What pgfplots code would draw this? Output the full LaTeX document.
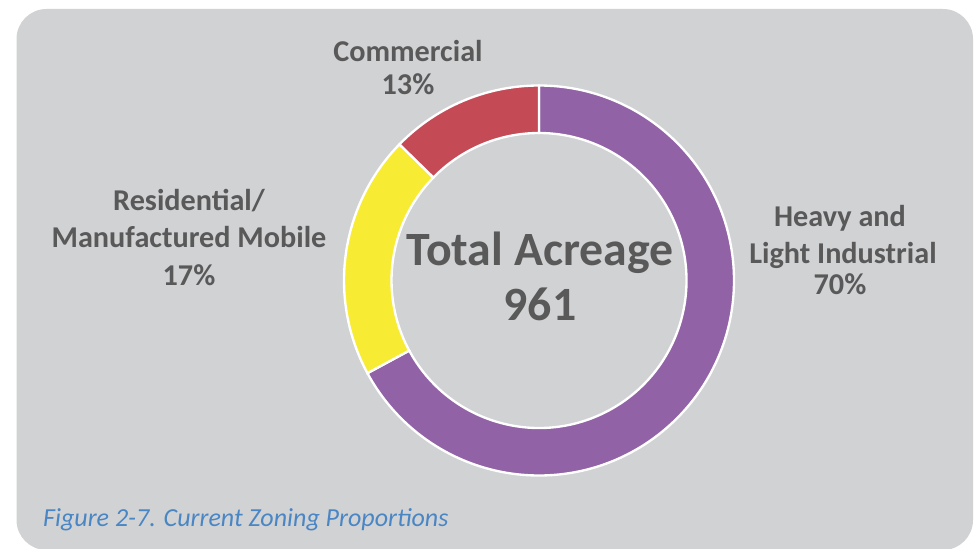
\documentclass[border=0pt]{standalone}
\usepackage{pgfplots}
\pgfplotsset{compat=1.18}
\usepackage{pgfplotstable}
\usepackage{fontspec}
\setmainfont{Carlito}

\definecolor{bg}{HTML}{D1D2D4}
\definecolor{ind}{HTML}{9262A6}
\definecolor{res}{HTML}{F7EC33}
\definecolor{com}{HTML}{C44A55}
\definecolor{lbl}{HTML}{595959}
\definecolor{cap}{HTML}{4A86C4}

% acreage by zoning class (total 961)
\pgfplotstableread{
zone acres
Industrial 645
Residential 194
Commercial 122
}\zoning

\pgfplotstablegetelem{0}{acres}\of\zoning \let\vA\pgfplotsretval
\pgfplotstablegetelem{1}{acres}\of\zoning \let\vB\pgfplotsretval
\pgfplotstablegetelem{2}{acres}\of\zoning \let\vC\pgfplotsretval
\pgfmathsetmacro\total{\vA+\vB+\vC}
\pgfmathsetmacro\aA{90}
\pgfmathsetmacro\aB{\aA-360*(\vA/\total)}
\pgfmathsetmacro\aC{\aB-360*(\vB/\total)}
\pgfmathsetmacro\aD{\aC-360*(\vC/\total)}

% donut geometry (axis units = px)
\def\cx{539}
\def\cy{267.5}
\def\ro{195}
\def\ri{147.5}

\newcommand\seg[3]{%
  \fill[#1, draw=white, line width=2pt]
    (axis cs:{\cx+\ro*cos(#2)},{\cy+\ro*sin(#2)})
    arc[start angle=#2, end angle=#3, radius=\ro*0.03cm]
    -- (axis cs:{\cx+\ri*cos(#3)},{\cy+\ri*sin(#3)})
    arc[start angle=#3, end angle=#2, radius=\ri*0.03cm] -- cycle;}

\begin{document}
\begin{tikzpicture}
\begin{axis}[
  x=0.03cm, y=0.03cm,
  xmin=0, xmax=978, ymin=0, ymax=548,
  hide axis, clip=true,
  ]
  \fill[white] (axis cs:0,0) rectangle (axis cs:978,548);
  \fill[bg, rounded corners=0.9cm] (axis cs:16.5,-2) rectangle (axis cs:973,539);

  \seg{ind}{\aA}{\aB}
  \seg{res}{\aB}{\aC}
  \seg{com}{\aC}{\aD}

  \begin{scope}[every node/.style={anchor=base, text=lbl, font=\bfseries\fontsize{25.8}{30}\selectfont}]
    \node at (axis cs:189,338) {Residential/};
    \node at (axis cs:189,301) {Manufactured Mobile};
    \node at (axis cs:189,263) {17\%};
    \node at (axis cs:840,321.5) {Heavy and};
    \node at (axis cs:843,284.5) {Light Industrial};
    \node at (axis cs:840,254) {70\%};
    \node at (axis cs:408,486) {Commercial};
    \node at (axis cs:408,453) {13\%};
    \node[font=\bfseries\fontsize{40.8}{46}\selectfont] at (axis cs:540,283) {Total Acreage};
    \node[font=\bfseries\fontsize{40.8}{46}\selectfont] at (axis cs:540,228) {961};
  \end{scope}
  \node[anchor=base west, text=cap, font=\itshape\fontsize{22.2}{26}\selectfont]
    at (axis cs:39,21.5) {Figure 2-7. Current Zoning Proportions};
\end{axis}
\end{tikzpicture}
\end{document}
